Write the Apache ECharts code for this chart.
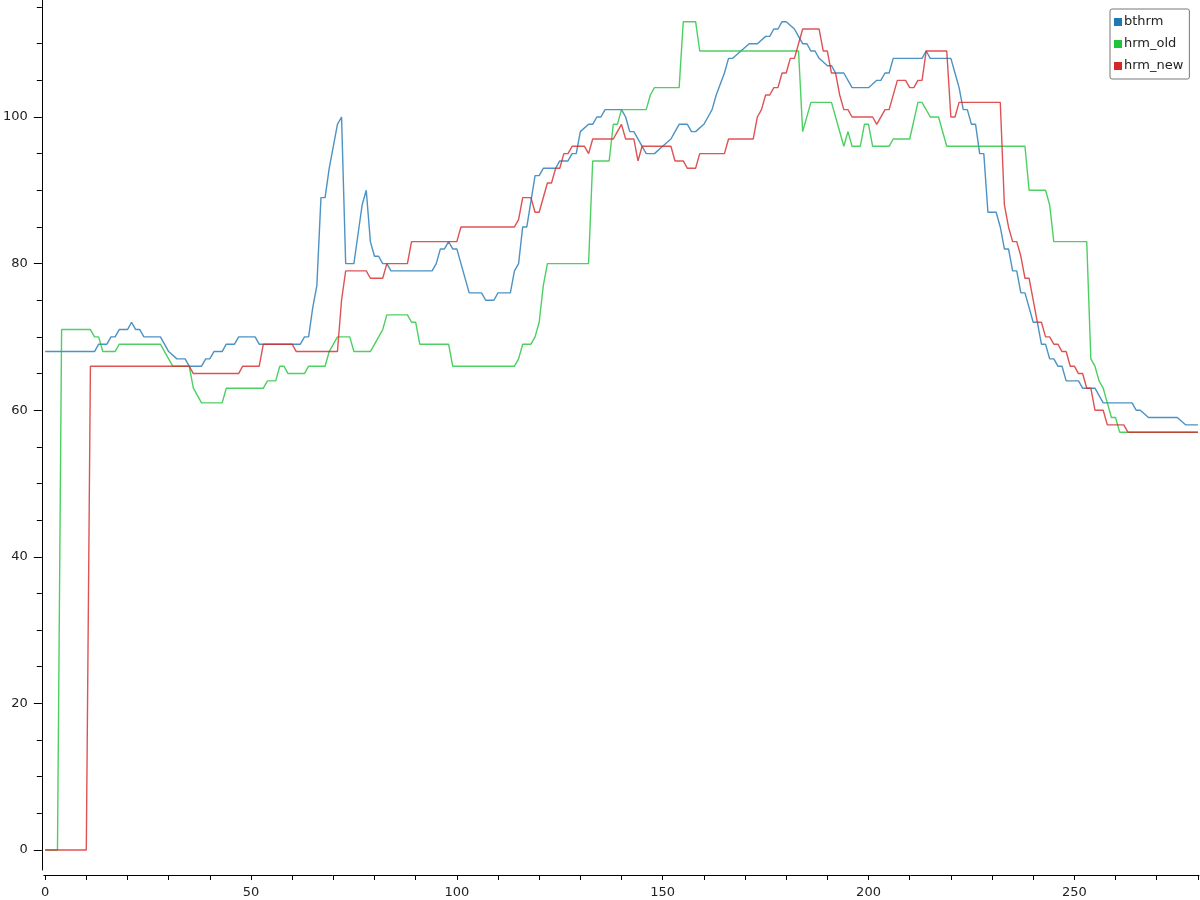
<!DOCTYPE html>
<html>
<head>
<meta charset="utf-8">
<script src="https://cdn.jsdelivr.net/npm/echarts@6/dist/echarts.min.js"></script>
<style>
html,body{margin:0;padding:0;background:#fff;}
#chart{width:1200px;height:900px;}
</style>
</head>
<body>
<div id="chart"></div>
<script>
// ---- data (x = sample index, y = heart rate) ----
const bthrm = [[0,68],[12,68],[13,69],[15,69],[16,70],[17,70],[18,71],[20,71],[21,72],[22,71],[23,71],[24,70],[28,70],[29,69],[30,68],[32,67],[34,67],[35,66],[38,66],[39,67],[40,67],[41,68],[43,68],[44,69],[46,69],[47,70],[51,70],[52,69],[62,69],[63,70],[64,70],[65,74],[66,77],[67,89],[68,89],[69,93],[70,96],[71,99],[72,100],[73,80],[75,80],[76,84],[77,88],[78,90],[79,83],[80,81],[81,81],[82,80],[83,80],[84,79],[94,79],[95,80],[96,82],[97,82],[98,83],[99,82],[100,82],[103,76],[106,76],[107,75],[109,75],[110,76],[113,76],[114,79],[115,80],[116,85],[117,85],[119,92],[120,92],[121,93],[124,93],[125,94],[127,94],[128,95],[129,95],[130,98],[132,99],[133,99],[134,100],[135,100],[136,101],[140,101],[141,100],[142,98],[143,98],[146,95],[148,95],[150,96],[152,97],[153,98],[154,99],[156,99],[157,98],[158,98],[160,99],[161,100],[162,101],[163,103],[165,106],[166,108],[167,108],[169,109],[171,110],[173,110],[175,111],[176,111],[177,112],[178,112],[179,113],[180,113],[182,112],[183,111],[184,110],[185,110],[186,109],[187,109],[188,108],[190,107],[191,107],[192,106],[194,106],[196,104],[200,104],[202,105],[203,105],[204,106],[205,106],[206,108],[213,108],[214,109],[215,108],[220,108],[221,106],[222,104],[223,101],[224,101],[225,99],[226,99],[227,95],[228,95],[229,87],[231,87],[232,85],[233,82],[234,82],[235,79],[236,79],[237,76],[238,76],[240,72],[241,72],[242,69],[243,69],[244,67],[245,67],[246,66],[247,66],[248,64],[251,64],[252,63],[255,63],[257,61],[264,61],[265,60],[266,60],[268,59],[275,59],[277,58],[280,58]];

const hrmOld = [[0,0],[3,0],[4,71],[11,71],[12,70],[13,70],[14,68],[17,68],[18,69],[28,69],[29,68],[31,66],[35,66],[36,63],[38,61],[43,61],[44,63],[53,63],[54,64],[56,64],[57,66],[58,66],[59,65],[63,65],[64,66],[68,66],[69,68],[71,70],[74,70],[75,68],[79,68],[82,71],[83,73],[88,73],[89,72],[90,72],[91,69],[98,69],[99,66],[114,66],[115,67],[116,69],[118,69],[119,70],[120,72],[121,77],[122,80],[132,80],[133,94],[137,94],[138,99],[139,99],[140,101],[146,101],[147,103],[148,104],[154,104],[155,113],[158,113],[159,109],[183,109],[184,98],[186,102],[191,102],[194,96],[195,98],[196,96],[198,96],[199,99],[200,99],[201,96],[205,96],[206,97],[210,97],[212,102],[213,102],[215,100],[217,100],[219,96],[238,96],[239,90],[243,90],[244,88],[245,83],[253,83],[254,67],[255,66],[256,64],[257,63],[258,61],[259,59],[260,59],[261,57],[280,57]];

const hrmNew = [[0,0],[10,0],[11,66],[35,66],[36,65],[47,65],[48,66],[52,66],[53,69],[60,69],[61,68],[71,68],[72,75],[73,79],[78,79],[79,78],[82,78],[83,80],[88,80],[89,83],[100,83],[101,85],[114,85],[115,86],[116,89],[118,89],[119,87],[120,87],[122,91],[123,91],[124,93],[125,93],[126,95],[127,95],[128,96],[131,96],[132,95],[133,97],[138,97],[139,98],[140,99],[141,97],[143,97],[144,94],[145,96],[152,96],[153,94],[155,94],[156,93],[158,93],[159,95],[165,95],[166,97],[172,97],[173,100],[174,101],[175,103],[176,103],[177,104],[178,104],[179,106],[180,106],[181,108],[182,108],[183,110],[184,112],[188,112],[189,109],[190,109],[191,106],[192,106],[193,103],[194,101],[195,101],[196,100],[201,100],[202,99],[204,101],[205,101],[207,105],[209,105],[210,104],[211,104],[212,105],[213,105],[214,109],[219,109],[220,100],[221,100],[222,102],[232,102],[233,88],[234,85],[235,83],[236,83],[237,81],[238,78],[239,78],[240,75],[241,72],[242,72],[243,70],[244,70],[245,69],[246,69],[247,68],[248,68],[249,66],[250,66],[251,65],[252,65],[253,63],[254,63],[255,60],[257,60],[258,58],[262,58],[263,57],[280,57]];

const seriesNames = ['bthrm', 'hrm_old', 'hrm_new'];
const xTickValues = [0,10,20,30,40,50,60,70,80,90,100,110,120,130,140,150,160,170,180,190,200,210,220,230,240,250,260,270,280];
const xLabelValues = [0,50,100,150,200,250];
const yLabelValues = [0,20,40,60,80,100];
const yMinorValues = [5,10,15,25,30,35,45,50,55,65,70,75,85,90,95,105,110,115];

// ---- chart ----
const colors = ['#1f77b4', '#1fc43a', '#d62728'];
const font = 'DejaVu Sans';
const chart = echarts.init(document.getElementById('chart'), null, {renderer: 'canvas'});
const yBase = {
  type: 'value', min: -2.73, max: 115.96, position: 'left', offset: 2,
  splitLine: {show: false}
};
chart.setOption({
  animation: false,
  backgroundColor: '#fff',
  grid: {left: 43, right: 1, top: 0, bottom: 30, containLabel: false},
  legend: {
    orient: 'vertical', left: 1110, top: 9,
    data: seriesNames.map((n) => ({name: n, icon: 'rect'})),
    itemWidth: 8, itemHeight: 8, itemGap: 8,
    padding: [6, 6, 6, 4],
    borderColor: '#777', borderWidth: 1, borderRadius: 2,
    backgroundColor: '#fff',
    textStyle: {fontFamily: font, fontSize: 13, color: '#222', lineHeight: 14, padding: [0, 0, 0, -3]}
  },
  xAxis: [{
    type: 'value', min: -0.32, max: 280.27, offset: 5,
    splitLine: {show: false},
    axisLine: {show: true, onZero: false, lineStyle: {color: '#000', width: 1}},
    axisTick: {show: true, length: 5, customValues: xTickValues, lineStyle: {color: '#000'}},
    axisLabel: {customValues: xLabelValues, margin: 11, fontFamily: font, fontSize: 13, color: '#222'}
  }],
  yAxis: [
    Object.assign({}, yBase, {
      axisLine: {show: true, onZero: false, lineStyle: {color: '#000', width: 1}},
      axisTick: {show: true, length: 8, customValues: yLabelValues, lineStyle: {color: '#000'}},
      axisLabel: {customValues: yLabelValues, margin: 14, fontFamily: font, fontSize: 13, color: '#222'}
    }),
    Object.assign({}, yBase, {
      axisLine: {show: false, onZero: false},
      axisTick: {show: true, length: 5, customValues: yMinorValues, lineStyle: {color: '#000'}},
      axisLabel: {show: false}
    })
  ],
  series: [bthrm, hrmOld, hrmNew].map((d, i) => ({
    name: seriesNames[i], type: 'line', data: d, xAxisIndex: 0, yAxisIndex: 0,
    showSymbol: false, symbol: 'none', smooth: false,
    color: colors[i],
    lineStyle: {width: 1.4, color: colors[i], opacity: 0.8},
    emphasis: {disabled: true}
  }))
});
</script>
</body>
</html>
